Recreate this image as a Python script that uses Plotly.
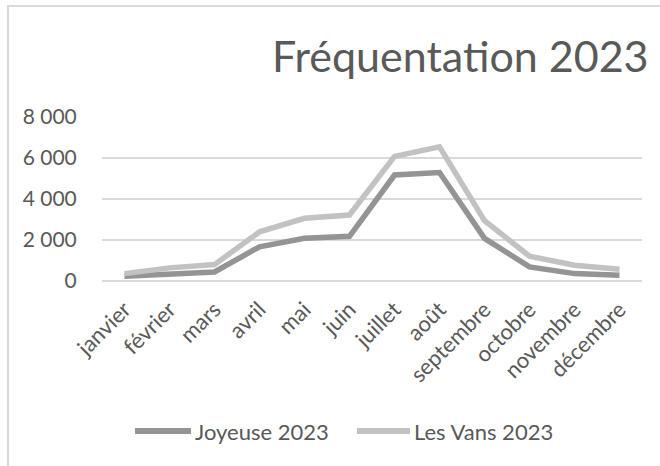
import plotly.graph_objects as go

months = ["janvier", "février", "mars", "avril", "mai", "juin", "juillet",
          "août", "septembre", "octobre", "novembre", "décembre"]
joyeuse_2023 = [230, 330, 440, 1670, 2080, 2180, 5170, 5290, 2080, 690, 360, 280]
les_vans_2023 = [360, 640, 800, 2400, 3060, 3220, 6080, 6540, 2940, 1210, 770, 570]
y_ticks = [0, 2000, 4000, 6000, 8000]
series_names = ["Joyeuse 2023", "Les Vans 2023"]
series_colors = ["#949494", "#c2c2c2"]

FONT = "Lato"
TXT = "#595959"
GRID = "#d9d9d9"

fig = go.Figure()
for name, vals, col in zip(series_names, [joyeuse_2023, les_vans_2023], series_colors):
    fig.add_trace(go.Scatter(x=months, y=vals, mode="lines", name=name,
                             line=dict(color=col, width=5.5), showlegend=False))

L, R, T, B = 102, 18, 117, 185
W, H = 660, 466
pw, ph = W - L - R, H - T - B
def px_x(x):
    return (x - L) / pw
def px_y(y):
    return (H - B - y) / ph

# manual legend (line sample + label)
legend_items = [(135, 191, 193), (357, 410, 412)]
shapes = [
    dict(type="line", xref="paper", yref="paper", x0=px_x(8), x1=px_x(8),
         y0=px_y(5), y1=px_y(470), line=dict(color=GRID, width=2)),
    dict(type="line", xref="paper", yref="paper", x0=px_x(7), x1=px_x(665),
         y0=px_y(6), y1=px_y(6), line=dict(color=GRID, width=2)),
]
annotations = [
    dict(text="Fréquentation 2023", xref="paper", yref="paper", x=px_x(651), y=px_y(56),
         xanchor="right", yanchor="middle", showarrow=False,
         font=dict(family=FONT, size=43, color=TXT)),
]
for (x0, x1, xt), name, col in zip(legend_items, series_names, series_colors):
    shapes.append(dict(type="line", xref="paper", yref="paper", x0=px_x(x0), x1=px_x(x1),
                       y0=px_y(431), y1=px_y(431), line=dict(color=col, width=6)))
    annotations.append(dict(text=name, xref="paper", yref="paper", x=px_x(xt), y=px_y(431),
                            xanchor="left", yanchor="middle", showarrow=False,
                            font=dict(family=FONT, size=22, color=TXT)))

fig.update_layout(
    width=W, height=H,
    margin=dict(l=L, r=R, t=T, b=B, autoexpand=False),
    paper_bgcolor="white", plot_bgcolor="white",
    separators=", ",
    font=dict(family=FONT, color=TXT, size=20),
    showlegend=False,
    xaxis=dict(type="category", range=[-0.5, 11.5], showgrid=False, zeroline=False,
               showline=False, tickangle=-45, ticks="outside", ticklen=6, automargin=False,
               tickcolor="rgba(0,0,0,0)", tickfont=dict(size=22, color=TXT)),
    yaxis=dict(range=[0, 8000], tickvals=y_ticks, tickformat=",d", showgrid=True,
               gridcolor=GRID, gridwidth=1.5, zeroline=True, zerolinecolor=GRID,
               zerolinewidth=1.5, showline=False, ticks="outside", ticklen=20, automargin=False,
               tickcolor="rgba(0,0,0,0)", tickfont=dict(size=21, color=TXT)),
    shapes=shapes,
    annotations=annotations,
)

fig.write_html("out.html", config={"displayModeBar": False},
               post_script="document.body.style.margin='0';")
